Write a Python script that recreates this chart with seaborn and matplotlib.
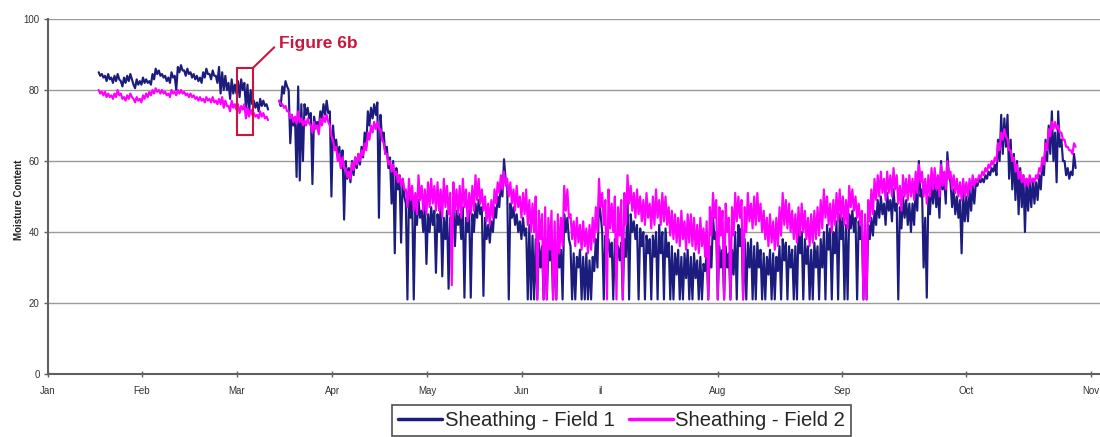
import numpy as np
import pandas as pd
import matplotlib
matplotlib.use("Agg")
import matplotlib.pyplot as plt
from matplotlib.patches import Rectangle
from matplotlib.lines import Line2D
import seaborn as sns

# ---------------- data (daily peak / daily low readings) ----------------
series_names = ["Sheathing - Field 1", "Sheathing - Field 2"]

# segment A: from day 16 (mid-January) to day 69
start_a = 16
field1_hi_a = [85, 84.5, 84, 84.5, 83.5, 84, 84.5, 82.5, 83.5, 84,
               84.5, 81.5, 83, 82.5, 83.5, 83, 82.5, 84.5, 86, 85.5,
               84.5, 84, 83.5, 85, 84, 86.5, 87, 85.5, 86, 85,
               84.5, 84, 83.5, 85, 86, 84.5, 85.5, 84, 86.5, 85,
               84, 82, 83, 81.5, 82.5, 83, 82, 81.5, 80, 77,
               76.5, 77.5, 77, 76]
field1_lo_a = [84, 83.5, 82.5, 83, 82, 82.5, 83, 81, 82, 82.5,
               83, 80.5, 81.5, 81.5, 82, 82, 81.5, 83, 84.5, 84,
               83.5, 82.5, 82, 83.5, 80, 85, 85.5, 84, 84.5, 83.5,
               83, 82.5, 82, 83.5, 84.5, 83, 84, 82, 79, 80,
               80, 77.5, 79, 79, 78, 80, 75, 73.5, 76, 75,
               74, 75.5, 75.5, 74.5]
field2_hi_a = [80, 79.5, 79.5, 79, 78.5, 79, 80, 79, 78, 78.5,
               79, 77.5, 78, 77.5, 78.5, 79, 79.5, 80, 80.5, 80,
               80, 79.5, 79, 80, 79.5, 80, 80, 79.5, 79, 79,
               78.5, 78, 78, 77.5, 78, 77.5, 78, 77, 77.5, 78,
               77, 75.5, 77, 76, 76, 75.5, 76, 75, 74.5, 73.5,
               73, 74, 73.5, 72.5]
field2_lo_a = [79, 78.5, 78, 78, 77.5, 78, 78.5, 77.5, 77, 77.5,
               78, 76.5, 77, 76.5, 77.5, 78, 78.5, 79, 79.5, 79,
               79, 78.5, 78, 79, 78.5, 79, 79, 78.5, 78, 78,
               77.5, 77, 77, 76.5, 77, 76.5, 76.5, 76, 76, 75,
               75.5, 74, 75, 74.5, 73.5, 74.5, 72, 72.5, 73, 72.5,
               72, 72.5, 72, 71.5]

# segment B: from day 73 (mid-March) to day 324 (late October)
start_b = 73
field1_hi_b = [77, 81, 82.5, 80, 73, 72, 81, 76, 76, 75,
               73.5, 72.5, 71, 74, 76, 77, 74, 70, 66, 64,
               63, 60, 58, 60, 61, 62, 64, 68, 74, 75,
               76, 76.5, 73, 68, 64, 61, 60, 58, 56, 55,
               48, 52, 50, 47, 49, 46, 48, 45, 47, 46,
               45, 47, 44, 46, 44, 48, 46, 45, 47, 44,
               46, 45, 48, 49, 47, 44, 42, 43, 47, 50,
               54, 60.5, 53, 48, 47, 45, 43, 44, 41, 42,
               39, 38, 37, 36, 38, 35, 36, 37, 36, 35,
               45, 44, 36, 34, 33, 35, 33, 34, 32, 33,
               38, 50, 40, 39, 38, 37, 38, 36, 37, 38,
               50, 45, 43, 42, 41, 40, 39, 38, 39, 40,
               42, 40, 41, 37, 36, 34, 35, 33, 34, 35,
               33, 34, 32, 33, 31, 34, 36, 44, 40, 36,
               35, 36, 34, 35, 40, 42, 41, 38, 37, 38,
               36, 37, 35, 34, 33, 35, 34, 33, 36, 38,
               37, 36, 35, 36, 41, 40, 38, 36, 35, 37,
               36, 38, 40, 42, 41, 40, 43, 45, 44, 42,
               45, 46, 44, 43, 42, 40, 42, 44, 46, 49,
               50, 48, 51, 49, 52, 48, 47, 50, 49, 48,
               48, 53, 60, 52, 44, 50, 54, 55, 52, 60,
               55, 62.5, 54, 52, 50, 49, 51, 50, 52, 53,
               54, 55, 55, 56, 57, 58, 59, 66, 73, 72,
               73, 66, 62, 60, 58, 56, 55, 54, 55, 54,
               56, 60, 66, 70, 74, 68, 74, 66, 60, 58, 57, 62]
field1_lo_b = [75.5, 79, 81, 65, 70, 55.5, 54.5, 60, 73, 72,
               53.5, 70, 69, 72, 73, 73.5, 50, 64, 61, 58,
               43.5, 55, 54, 56, 58, 59, 61, 64, 70, 72,
               73, 44, 66, 62, 58, 48, 34, 52, 37, 50,
               21, 44, 21, 42, 44, 40, 31, 40, 42, 28.5,
               40, 27.5, 38, 24, 40, 36, 42, 38, 21.5, 40,
               21.5, 40, 44, 45, 22, 38, 37, 40, 44, 47,
               50, 55, 21, 44, 42, 40, 38, 39, 21, 21,
               21, 21, 30, 21, 21, 32, 21, 21, 30, 21,
               40, 38, 21, 21, 30, 21, 21, 21, 21, 29,
               30, 45, 21, 34, 33, 21, 31, 32, 21, 33,
               21, 40, 38, 21, 36, 21, 34, 21, 33, 21,
               34, 21, 33, 21, 21, 28, 21, 21, 27, 21,
               21, 27, 21, 21, 29, 21, 30, 38, 21, 30,
               21, 30, 21, 28, 21, 36, 21, 21, 30, 21,
               21, 30, 21, 21, 28, 21, 21, 29, 21, 32,
               21, 30, 21, 21, 34, 21, 31, 21, 21, 30,
               21, 30, 21, 35, 21, 34, 21, 38, 21, 21,
               41, 40, 21, 38, 21, 21, 38, 39, 42, 44,
               45, 42, 46, 43, 46, 21, 41, 44, 42, 40,
               42, 46, 50, 30, 21.5, 45, 48, 47, 44, 52,
               48, 56, 47, 45, 44, 34, 43, 43, 46, 48,
               53, 54, 54, 55, 56, 57, 56, 60, 62, 64,
               55, 52, 49, 45, 47, 40, 46, 47, 48, 49,
               52, 56, 60, 62, 60, 54, 64, 60, 56, 55, 56, 58]
field2_hi_b = [77, 76, 75.5, 74, 73, 72.5, 74, 72, 71.5, 72,
               70, 71, 70, 72, 72.5, 73, 70, 66, 64, 62,
               61, 58, 57, 59.5, 61, 62, 63, 65, 68, 70,
               71, 71, 69, 65, 62, 60, 59, 57, 56, 55,
               52, 55, 53, 51, 56, 53, 52, 54, 55, 53,
               54, 52, 55, 53, 51, 54, 52, 53, 55, 52,
               51, 53, 56, 55, 52, 50, 48, 49, 52, 54,
               56, 57, 55, 54, 52, 53, 50, 51, 52, 49,
               48, 50, 46, 45, 47, 44, 46, 43, 45, 44,
               53, 52, 45, 43, 44, 42, 43, 41, 42, 44,
               47, 55, 51, 49, 52, 48, 50, 47, 49, 51,
               56, 53, 51, 52, 50, 49, 51, 48, 50, 52,
               49, 51, 50, 47, 46, 45, 44, 46, 43, 45,
               45, 44, 42, 44, 41, 43, 47, 51, 49, 47,
               46, 48, 44, 47, 51, 50, 49, 47, 51, 48,
               50, 51, 48, 46, 44, 45, 43, 44, 47, 51,
               49, 48, 46, 45, 47, 48, 46, 44, 45, 46,
               47, 49, 52, 50, 48, 49, 51, 52, 50, 49,
               53, 52, 50, 48, 46, 45, 49, 52, 55, 56,
               57, 55, 57, 56, 58, 56, 53, 56, 55, 56,
               55, 57, 59, 57, 55, 56, 58, 58, 56, 59,
               57, 60, 57, 56, 55, 54, 55, 54, 55, 56,
               55, 56, 57, 58, 59, 60, 61, 65, 68, 69,
               66, 63, 61, 59, 57, 56, 55, 56, 55, 56,
               58, 61, 65, 69, 71, 71, 70, 68, 66, 64, 63, 65]
field2_lo_b = [76, 75, 74, 72, 71, 70.5, 71, 70, 70, 70.5,
               68, 69, 67.5, 70, 71, 71, 67, 63, 60, 58,
               58, 55.5, 55, 57.5, 59, 60, 61.5, 63, 66, 68,
               69, 69, 66, 62, 59, 57, 56, 54, 53, 52,
               47, 49, 46, 45, 49, 46, 45, 47, 48, 46,
               46, 44, 47, 45, 25, 46, 45, 44, 47, 43,
               45, 46, 49, 48, 46, 43, 42, 44, 48, 51,
               52, 53, 50, 48, 46, 47, 44, 45, 42, 40,
               40, 21, 38, 21, 21, 35, 21, 21, 34, 36,
               46, 44, 38, 36, 37, 35, 36, 34, 35, 37,
               40, 47, 42, 21, 41, 40, 21, 39, 21, 42,
               48, 46, 44, 45, 43, 42, 44, 41, 42, 44,
               42, 43, 42, 39, 38, 37, 36, 38, 35, 37,
               36, 35, 34, 36, 33, 21, 39, 44, 21, 39,
               21, 40, 21, 39, 43, 44, 21, 40, 43, 41,
               42, 43, 40, 38, 36, 37, 35, 36, 39, 42,
               41, 40, 38, 37, 39, 40, 38, 36, 37, 38,
               39, 41, 44, 42, 40, 42, 43, 44, 42, 41,
               47, 46, 44, 42, 21, 21, 43, 45, 49, 50,
               51, 49, 51, 50, 52, 48, 46, 50, 49, 50,
               49, 51, 54, 50, 48, 50, 52, 52, 50, 53,
               52, 55, 52, 51, 50, 49, 50, 50, 52, 53,
               54, 55, 56, 57, 58, 59, 60, 63, 66, 67,
               63, 60, 57, 55, 54, 53, 53, 54, 54, 55,
               57, 59, 63, 67, 69, 69, 68, 66, 64, 63, 62, 64]

month_labels = ["Jan", "Feb", "Mar", "Apr", "May", "Jun", "Aug", "Sep", "Oct", "Nov"]
month_ticks = [0, 29.7, 59.7, 89.7, 119.7, 149.7, 211.6, 250.7, 289.9, 329.4]
partial_label = "il"
partial_tick = 174.6
y_ticks = [0, 20, 40, 60, 80, 100]

# ---------------- build long table ----------------
def segment_frame(start, hi, lo, name, seg):
    d = start + np.arange(len(hi), dtype=float)
    x = np.column_stack([d, d + 0.5]).ravel()
    y = np.column_stack([hi, lo]).ravel()
    return pd.DataFrame({"day": x, "value": y, "series": name, "seg": seg})

frames = [
    segment_frame(start_a, field1_hi_a, field1_lo_a, series_names[0], "a"),
    segment_frame(start_b, field1_hi_b, field1_lo_b, series_names[0], "b"),
    segment_frame(start_a, field2_hi_a, field2_lo_a, series_names[1], "a"),
    segment_frame(start_b, field2_hi_b, field2_lo_b, series_names[1], "b"),
]
df = pd.concat(frames, ignore_index=True)

# ---------------- style ----------------
sns.set_style("white")
plt.rcParams["font.family"] = ["Liberation Sans", "DejaVu Sans"]

navy = "#1c1c7e"
magenta = "#ff00ff"
red = "#c8163c"

fig = plt.figure(figsize=(11, 4.37), dpi=100)
ax = fig.add_axes([48 / 1100, 1 - 374 / 437, 1 - 48 / 1100, 355 / 437])

sns.lineplot(data=df, x="day", y="value", hue="series", units="seg",
             estimator=None, sort=False, palette=[navy, magenta],
             linewidth=1.55, legend=False, ax=ax)

ax.set_xlim(0, 332.2)
ax.set_ylim(0, 100)
ax.set_yticks(y_ticks)
ax.set_xticks(month_ticks)
ax.set_xticklabels(month_labels)
ax.set_xticks([partial_tick], minor=True)
ax.set_xticklabels([partial_label], minor=True)

ax.grid(axis="y", color="#9a9a9a", linewidth=1.0)
ax.set_axisbelow(True)
for s in ["top", "right"]:
    ax.spines[s].set_visible(False)
for s in ["left", "bottom"]:
    ax.spines[s].set_color("#606060")
    ax.spines[s].set_linewidth(1.5)

ax.tick_params(axis="y", which="major", direction="out", length=3, width=1,
               color="#606060", labelsize=7, labelcolor="#333333", pad=3, left=True)
ax.tick_params(axis="x", which="major", direction="inout", length=4, width=1,
               color="#606060", labelsize=7, labelcolor="#333333", pad=7, bottom=True)
ax.tick_params(axis="x", which="minor", length=0, labelsize=7,
               labelcolor="#333333", pad=9)

ax.set_xlabel("")
ax.set_ylabel("Moisture Content", fontsize=7, fontweight="bold", color="#222222")
ax.yaxis.set_label_coords(-0.023, 0.49)

# annotation box "Figure 6b"
ax.add_patch(Rectangle((59.7, 67.3), 5.0, 18.9, fill=False,
                       edgecolor=red, linewidth=1.5, zorder=5))
ax.annotate("Figure 6b", xy=(64.7, 86.2), xytext=(72.8, 93.2),
            textcoords="data", ha="left", va="center", fontsize=12.5,
            fontweight="bold", color=red,
            arrowprops=dict(arrowstyle="-", color=red, lw=1.5,
                            relpos=(0, 0.5), shrinkA=1, shrinkB=0))

# legend
handles = [Line2D([], [], color=navy, lw=2.5), Line2D([], [], color=magenta, lw=2.5)]
leg = fig.legend(handles, series_names, loc="upper center",
                 bbox_to_anchor=(0.565, 0.073), ncol=2, fontsize=14.6,
                 frameon=True, fancybox=False, edgecolor="#222222",
                 handlelength=2.2, handletextpad=0.1, columnspacing=0.7,
                 borderpad=0.3, borderaxespad=0)
leg.get_frame().set_linewidth(1.2)

fig.savefig("out.png", dpi=100)
